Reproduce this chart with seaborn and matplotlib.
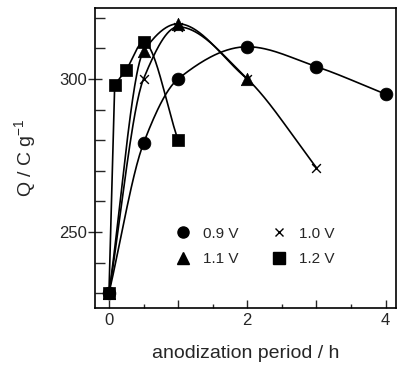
import numpy as np
import pandas as pd
import matplotlib
matplotlib.use("Agg")
import matplotlib.pyplot as plt
import seaborn as sns
from matplotlib.ticker import MultipleLocator

# data (anodization period in h, Q in C/g)
t_09 = [0, 0.5, 1, 2, 3, 4]
q_09 = [230, 279, 300, 310.5, 304, 295]
t_10 = [0, 0.5, 1, 2, 3]
q_10 = [230, 300, 317, 300, 271]
t_11 = [0, 0.5, 1, 2]
q_11 = [230, 309, 318, 300]
t_12 = [0, 0.083, 0.25, 0.5, 1]
q_12 = [230, 298, 303, 312, 280]

labels = ["0.9 V", "1.0 V", "1.1 V", "1.2 V"]
markers = {"0.9 V": "o", "1.0 V": "x", "1.1 V": "^", "1.2 V": "s"}
sizes = {"0.9 V": 85, "1.0 V": 40, "1.1 V": 80, "1.2 V": 80}


def smooth(x, y, n=200):
    # monotone cubic (pchip-like) curve through the points, drawing only
    x = np.asarray(x, float)
    y = np.asarray(y, float)
    h = np.diff(x)
    s = np.diff(y) / h
    m = np.zeros(len(x))
    m[0], m[-1] = s[0], s[-1]
    for i in range(1, len(x) - 1):
        if s[i - 1] * s[i] > 0:
            w1 = 2 * h[i] + h[i - 1]
            w2 = h[i] + 2 * h[i - 1]
            m[i] = (w1 + w2) / (w1 / s[i - 1] + w2 / s[i])
    xs = np.linspace(x[0], x[-1], n)
    idx = np.clip(np.searchsorted(x, xs) - 1, 0, len(x) - 2)
    tt = (xs - x[idx]) / h[idx]
    h00 = 2 * tt ** 3 - 3 * tt ** 2 + 1
    h10 = tt ** 3 - 2 * tt ** 2 + tt
    h01 = -2 * tt ** 3 + 3 * tt ** 2
    h11 = tt ** 3 - tt ** 2
    ys = (h00 * y[idx] + h10 * h[idx] * m[idx]
          + h01 * y[idx + 1] + h11 * h[idx] * m[idx + 1])
    return xs, ys


rows = []
for lab, tt, qq in zip(labels, [t_09, t_10, t_11, t_12], [q_09, q_10, q_11, q_12]):
    for a, b in zip(tt, qq):
        rows.append({"t": a, "Q": b, "series": lab})
df = pd.DataFrame(rows)

sns.set_style("ticks")
plt.rcParams["font.family"] = ["Liberation Sans", "DejaVu Sans"]
plt.rcParams["mathtext.fontset"] = "custom"
plt.rcParams["mathtext.rm"] = "Liberation Sans"

fig = plt.figure(figsize=(3.98, 3.75), dpi=100)
ax = fig.add_axes([0.239, 0.179, 0.756, 0.800])

# connecting curves
for lab, tt, qq in zip(labels, [t_09, t_10, t_11, t_12], [q_09, q_10, q_11, q_12]):
    if lab == "1.2 V":
        ax.plot(tt[:2], qq[:2], color="black", lw=1.2, zorder=1)
        xs, ys = smooth(tt[1:], qq[1:])
    else:
        xs, ys = smooth(tt, qq)
    ax.plot(xs, ys, color="black", lw=1.2, zorder=1)

for lab in labels:
    sub = df[df["series"] == lab]
    sns.scatterplot(data=sub, x="t", y="Q", marker=markers[lab], color="black",
                    edgecolor="black", s=sizes[lab],
                    linewidth=1.0 if lab == "1.0 V" else 0.5,
                    ax=ax, zorder=3, legend=False)

handles = {
    "0.9 V": plt.Line2D([], [], ls="", marker="o", color="black", ms=8),
    "1.0 V": plt.Line2D([], [], ls="", marker="x", color="black", ms=6, mew=1),
    "1.1 V": plt.Line2D([], [], ls="", marker="^", color="black", ms=8),
    "1.2 V": plt.Line2D([], [], ls="", marker="s", color="black", ms=8),
}
order = ["0.9 V", "1.1 V", "1.0 V", "1.2 V"]
ax.legend([handles[k] for k in order], order, ncol=2, frameon=False, fontsize=11,
          loc="center left", bbox_to_anchor=(0.22, 0.205),
          handletextpad=0.8, columnspacing=2.2, labelspacing=0.75,
          handlelength=1.0)

ax.set_xlim(-0.2, 4.15)
ax.set_ylim(225.2, 323.2)
ax.set_xticks([0, 1, 2, 3, 4])
ax.set_xticklabels(["0", "", "2", "", "4"])
ax.xaxis.set_minor_locator(MultipleLocator(0.5))
ax.yaxis.set_major_locator(MultipleLocator(50))
ax.yaxis.set_minor_locator(MultipleLocator(10))
ax.tick_params(axis="x", which="major", direction="in", length=6, width=1, labelsize=12, pad=4)
ax.tick_params(axis="x", which="minor", direction="in", length=3, width=1)
ax.tick_params(axis="y", which="major", direction="inout", length=10, width=1, labelsize=12, pad=1)
ax.tick_params(axis="y", which="minor", direction="in", length=7, width=1)
for s in ax.spines.values():
    s.set_linewidth(1.2)
    s.set_color("black")

ax.set_xlabel("anodization period / h", fontsize=14, labelpad=12)
ax.set_ylabel("Q / C g$^{-1}$", fontsize=14, labelpad=14)

fig.savefig("out.png", dpi=100)
